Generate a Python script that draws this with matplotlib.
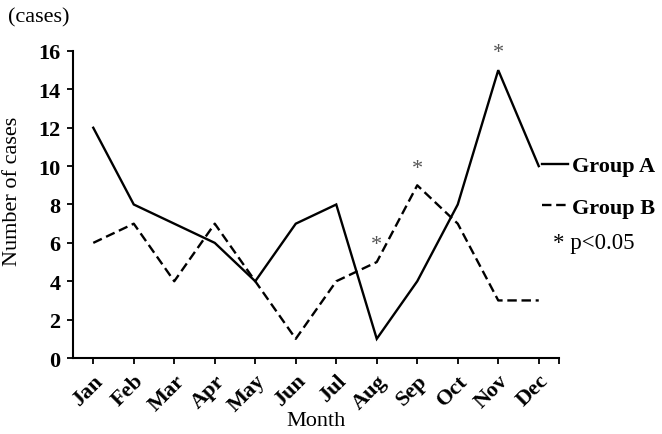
import matplotlib.pyplot as plt
from matplotlib.lines import Line2D

# data
months = ['Jan', 'Feb', 'Mar', 'Apr', 'May', 'Jun', 'Jul', 'Aug', 'Sep', 'Oct', 'Nov', 'Dec']
group_a = [12, 8, 7, 6, 4, 7, 8, 1, 4, 8, 15, 10]
group_b = [6, 7, 4, 7, 4, 1, 4, 5, 9, 7, 3, 3]
# significant months and which group the star sits over
sig_months = ['Aug', 'Sep', 'Nov']
sig_groups = ['B', 'B', 'A']

plt.rcParams['font.family'] = ['Liberation Serif', 'DejaVu Serif']
FS = 16

fig = plt.figure(figsize=(6.62, 4.35), dpi=100)
ax = fig.add_axes([0.1103, 0.1747, 0.7341, 0.7058])

x = list(range(len(months)))
ax.plot(x, group_a, color='black', lw=1.7, solid_joinstyle='miter')
ax.plot(x, group_b, color='black', lw=1.7, linestyle=(0, (4, 2)))

# stars above the significant points
for m, g in zip(sig_months, sig_groups):
    i = months.index(m)
    v = group_a[i] if g == 'A' else group_b[i]
    ax.text(i, v + 0.9, '*', ha='center', va='center', fontsize=FS,
            color='#555555', clip_on=False)

ax.set_xlim(-0.5, 11.5)
ax.set_ylim(0, 16)
ax.set_yticks(range(0, 17, 2))
ax.set_xticks(x)
ax.set_xticks([11.5], minor=True)
ax.set_xticklabels(months, rotation=45, ha='right', rotation_mode='anchor',
                   fontsize=FS, fontweight='bold')
for lab in ax.get_yticklabels():
    lab.set_fontweight('bold')
    lab.set_fontsize(FS)

ax.spines['top'].set_visible(False)
ax.spines['right'].set_visible(False)
ax.spines['left'].set_linewidth(1.5)
ax.spines['bottom'].set_linewidth(1.5)
ax.tick_params(axis='both', which='both', direction='out', length=4, width=1.3)
ax.tick_params(axis='x', which='major', pad=5)
ax.tick_params(axis='y', pad=5)

ax.set_xlabel('Month', fontsize=FS, labelpad=-3)
ax.set_ylabel('Number of cases', fontsize=FS)
ax.yaxis.set_label_coords(-0.105, 0.545)
fig.text(0.012, 0.958, '(cases)', fontsize=FS, va='center', ha='left')

handles = [Line2D([], [], color='black', lw=1.7),
           Line2D([], [], color='black', lw=1.7, linestyle=(0, (4, 2)))]
fig.legend(handles, ['Group A', 'Group B'], loc='center left',
           bbox_to_anchor=(0.818, 0.568), frameon=False,
           prop={'weight': 'bold', 'size': FS}, handlelength=1.2,
           handletextpad=0.15, labelspacing=0.95, borderpad=0, borderaxespad=0)
fig.text(0.835, 0.441, '* p<0.05', fontsize=16.5, va='center', ha='left')

fig.savefig('out.png', dpi=100)
